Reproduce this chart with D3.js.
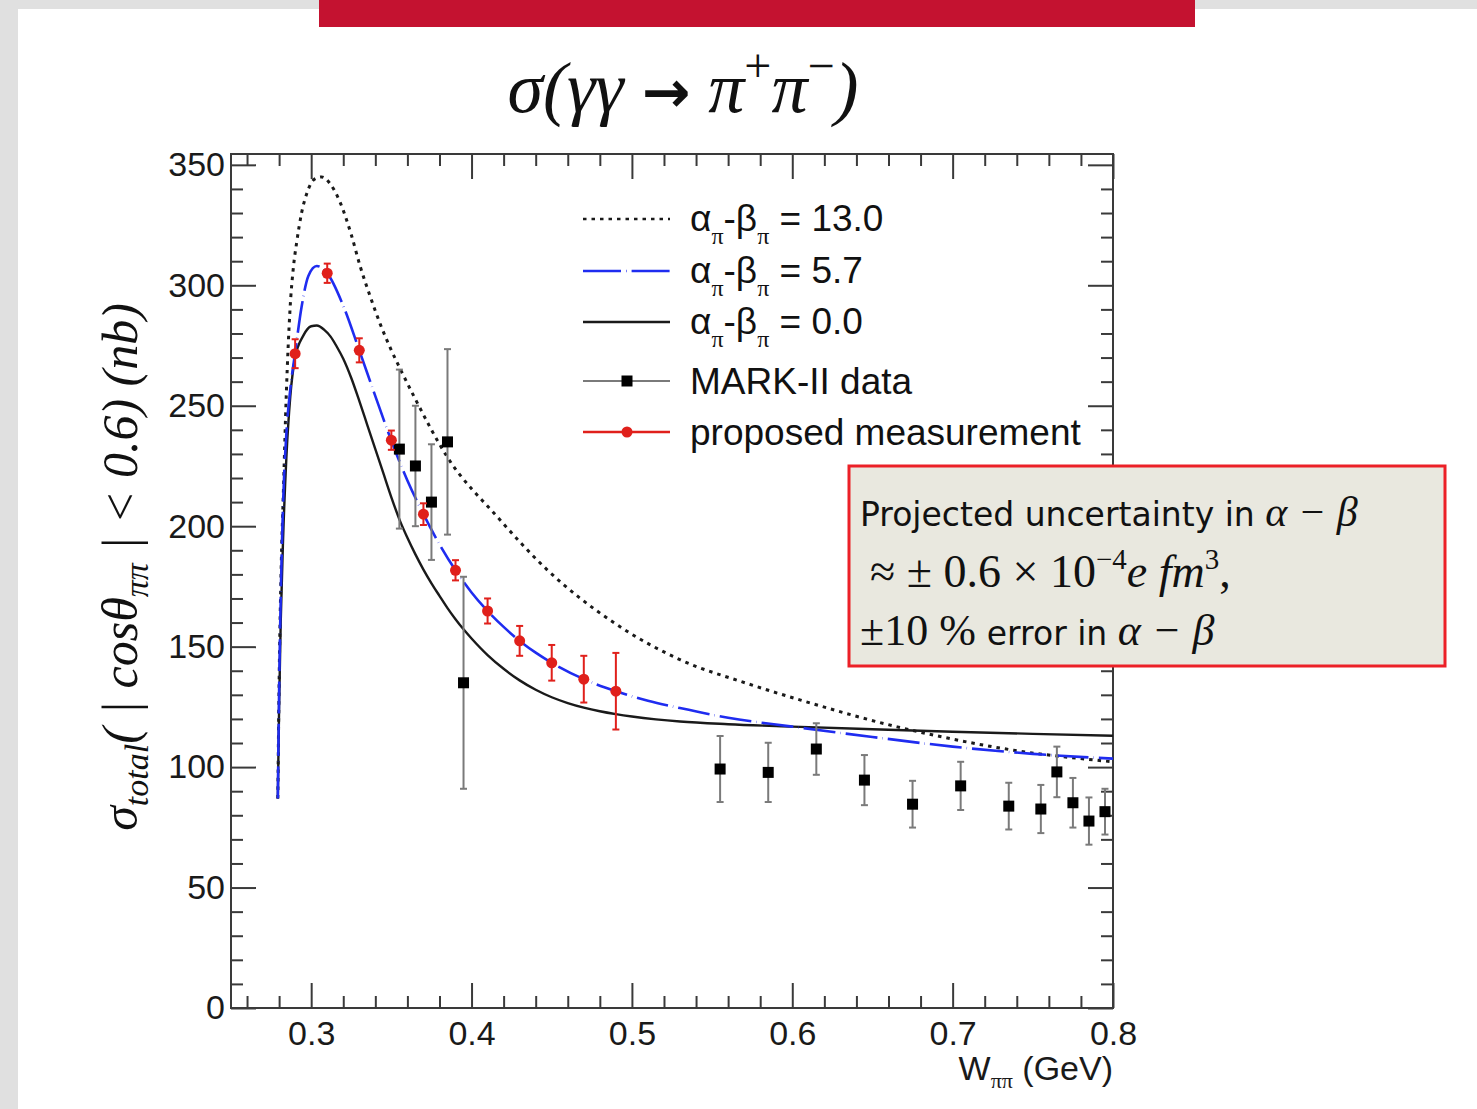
<!DOCTYPE html>
<html>
<head>
<meta charset="utf-8">
<script src="https://cdn.jsdelivr.net/npm/d3@7"></script>
<style>
  body { margin: 0; background: #fff; }
</style>
</head>
<body>
<svg id="chart" width="1477" height="1109"></svg>
<script>
const width = 1477;
const height = 1109;
const marginTop = 154;
const marginRight = 364;
const marginBottom = 101;
const marginLeft = 231;

// tick values
const xMajor = [0.3, 0.4, 0.5, 0.6, 0.7, 0.8];
const xMinor = [0.26, 0.28, 0.32, 0.34, 0.36, 0.38, 0.42, 0.44, 0.46, 0.48, 0.52, 0.54, 0.56, 0.58,
  0.62, 0.64, 0.66, 0.68, 0.72, 0.74, 0.76, 0.78];
const yMajor = [0, 50, 100, 150, 200, 250, 300, 350];
const yMinor = d3.range(0, 351, 10).filter(v => v % 50 !== 0);

// alpha-beta = 13.0 (dotted)
const dottedX = [0.2792, 0.2800, 0.2812, 0.2827, 0.2845, 0.2868, 0.2890, 0.2910, 0.2940, 0.2972, 0.3020,
  0.3066, 0.3120, 0.3180, 0.3250, 0.3305, 0.3370, 0.3430, 0.3500, 0.3550, 0.3640, 0.3846, 0.4159, 0.4470,
  0.4886, 0.5303, 0.5719, 0.6052, 0.6655, 0.6880, 0.7380, 0.8000];
const dottedY = [87, 135, 180, 215, 255, 290, 308, 318, 330, 338, 344,
  345, 342, 334.5, 321, 308, 295, 284, 273, 266, 254, 229, 204, 182,
  160, 144.5, 134.7, 127.8, 116.7, 113.3, 107, 102.2];

// alpha-beta = 5.7 (blue dashed)
const blueX = [0.2792, 0.2800, 0.2810, 0.2825, 0.2845, 0.2870, 0.2900, 0.2940, 0.2983, 0.3035, 0.3100,
  0.3200, 0.3300, 0.3400, 0.3500, 0.3600, 0.3700, 0.3800, 0.3900, 0.4000, 0.4100, 0.4200, 0.4300,
  0.4400, 0.4500, 0.4700, 0.4900, 0.5100, 0.5300, 0.5600, 0.6000, 0.6500, 0.7000, 0.7500, 0.8000];
const blueY = [87, 132, 170, 210, 238, 257, 272, 291, 304, 308, 305,
  291.5, 273, 254, 235.5, 219, 205, 192.5, 181.7, 172.5, 164.8, 158.2, 152.4,
  147.5, 143.3, 136.5, 131.5, 127.5, 124.5, 120.5, 116.8, 112.5, 108.5, 105.5, 103.5];

// alpha-beta = 0.0 (black solid)
const blackX = [0.2792, 0.2800, 0.2810, 0.2825, 0.2845, 0.2870, 0.2900, 0.2950, 0.3000, 0.3035, 0.3080,
  0.3120, 0.3160, 0.3200, 0.3250, 0.3300, 0.3350, 0.3400, 0.3450, 0.3500, 0.3555, 0.3600, 0.3650,
  0.3700, 0.3750, 0.3800, 0.3850, 0.3900, 0.3950, 0.4000, 0.4100, 0.4200, 0.4300, 0.4400, 0.4500,
  0.4600, 0.4700, 0.4800, 0.4900, 0.5000, 0.5150, 0.5300, 0.5600, 0.6000, 0.6500, 0.7000, 0.7500, 0.8000];
const blackY = [87, 125, 160, 195, 228, 254, 270, 279, 283, 283.3, 281.6,
  278.8, 274.5, 269.5, 261.5, 252, 242, 232, 222, 212, 202, 195.2, 188.3,
  182, 176.3, 171.1, 166, 161.4, 157.2, 153.4, 146.5, 140.8, 136, 132.1, 129,
  126.6, 124.7, 123.2, 122, 121, 119.8, 118.9, 117.8, 116.8, 115.7, 114.7, 113.8, 113];

// MARK-II data
const markX = [0.355, 0.365, 0.375, 0.385, 0.395, 0.555, 0.585, 0.615, 0.645, 0.675, 0.705, 0.735,
  0.755, 0.765, 0.775, 0.785, 0.795];
const markY = [232, 225, 210, 235, 135, 99.2, 97.8, 107.5, 94.6, 84.6, 92.2, 83.8,
  82.6, 98.0, 85.2, 77.6, 81.5];
const markErr = [33, 25, 24, 38.5, 44, 13.7, 12.3, 10.7, 10.4, 9.7, 10, 9.7,
  10, 10.5, 10.3, 9.8, 9.5];

// proposed measurement
const propX = [0.29, 0.31, 0.33, 0.35, 0.37, 0.39, 0.41, 0.43, 0.45, 0.47, 0.49];
const propY = [271.6, 305, 273, 235.7, 205, 181.7, 164.8, 152.4, 143.3, 136.5, 131.5];
const propErr = [6, 4, 5, 4, 4.5, 4.2, 5.2, 6.2, 7.4, 9.7, 15.9];

const svg = d3.select("#chart");

// page background
svg.append("rect").attr("width", width).attr("height", height).attr("fill", "#e0e0e0");
svg.append("rect").attr("x", 18).attr("y", 9).attr("width", width - 18).attr("height", height - 9)
  .attr("fill", "#ffffff");
svg.append("rect").attr("x", 319).attr("y", 0).attr("width", 876).attr("height", 27).attr("fill", "#c41230");

// title
const title = svg.append("text")
  .attr("x", 683).attr("y", 112)
  .attr("text-anchor", "middle")
  .attr("font-family", "Liberation Serif, serif")
  .attr("font-style", "italic")
  .attr("font-size", 72)
  .attr("fill", "#111");
title.append("tspan").text("σ(γγ ");
title.append("tspan").attr("font-family", "DejaVu Sans, sans-serif").attr("font-style", "normal")
  .attr("font-weight", "bold").attr("font-size", 58).text("→");
title.append("tspan").text(" π");
title.append("tspan").attr("dy", -30).attr("font-size", 48).attr("font-style", "normal").text("+");
title.append("tspan").attr("dy", 30).text("π");
title.append("tspan").attr("dy", -30).attr("font-size", 48).attr("font-style", "normal").text("−");
title.append("tspan").attr("dy", 30).text(")");

const x = d3.scaleLinear()
  .domain([0.25, 0.8])
  .range([marginLeft, width - marginRight]);

const y = d3.scaleLinear()
  .domain([0, 354.5])
  .range([height - marginBottom, marginTop]);

const axisColor = "#3a3a3a";
const styleAxis = (g) => {
  g.select(".domain").remove();
  g.selectAll(".tick line").attr("stroke", axisColor).attr("stroke-width", 2);
  g.selectAll(".tick text").attr("fill", "#1a1a1a")
    .attr("font-family", "Liberation Sans, Arial, sans-serif").attr("font-size", 34);
};

// bottom axis
svg.append("g")
  .attr("transform", `translate(0,${height - marginBottom})`)
  .call(d3.axisBottom(x).tickValues(xMajor).tickSize(-25).tickPadding(13).tickFormat(d3.format(".1f")))
  .call(styleAxis);
svg.append("g")
  .attr("transform", `translate(0,${height - marginBottom})`)
  .call(d3.axisBottom(x).tickValues(xMinor).tickSize(-12).tickFormat(""))
  .call(styleAxis);

// top axis
svg.append("g")
  .attr("transform", `translate(0,${marginTop})`)
  .call(d3.axisTop(x).tickValues(xMajor).tickSize(-25).tickFormat(""))
  .call(styleAxis);
svg.append("g")
  .attr("transform", `translate(0,${marginTop})`)
  .call(d3.axisTop(x).tickValues(xMinor).tickSize(-12).tickFormat(""))
  .call(styleAxis);

// left axis
svg.append("g")
  .attr("transform", `translate(${marginLeft},0)`)
  .call(d3.axisLeft(y).tickValues(yMajor).tickSize(-25).tickPadding(6))
  .call(styleAxis);
svg.append("g")
  .attr("transform", `translate(${marginLeft},0)`)
  .call(d3.axisLeft(y).tickValues(yMinor).tickSize(-12).tickFormat(""))
  .call(styleAxis);

// right axis
svg.append("g")
  .attr("transform", `translate(${width - marginRight},0)`)
  .call(d3.axisRight(y).tickValues(yMajor).tickSize(-25).tickFormat(""))
  .call(styleAxis);
svg.append("g")
  .attr("transform", `translate(${width - marginRight},0)`)
  .call(d3.axisRight(y).tickValues(yMinor).tickSize(-12).tickFormat(""))
  .call(styleAxis);

// frame
svg.append("rect")
  .attr("x", marginLeft).attr("y", marginTop)
  .attr("width", width - marginRight - marginLeft)
  .attr("height", height - marginBottom - marginTop)
  .attr("fill", "none").attr("stroke", axisColor).attr("stroke-width", 2);

// x label
const xLabel = svg.append("text")
  .attr("x", width - marginRight).attr("y", 1080)
  .attr("text-anchor", "end")
  .attr("font-family", "Liberation Sans, Arial, sans-serif")
  .attr("font-size", 34).attr("fill", "#1a1a1a");
xLabel.append("tspan").text("W");
xLabel.append("tspan").attr("dy", 8).attr("font-size", 22)
  .attr("font-family", "Liberation Serif, serif").text("ππ");
xLabel.append("tspan").attr("dy", -8).text(" (GeV)");

// y label
const yLabel = svg.append("text")
  .attr("transform", "translate(137,567) rotate(-90)")
  .attr("text-anchor", "middle")
  .attr("font-family", "Liberation Serif, serif")
  .attr("font-style", "italic")
  .attr("font-size", 50).attr("fill", "#111");
yLabel.append("tspan").text("σ");
yLabel.append("tspan").attr("dy", 11).attr("font-size", 34).text("total");
yLabel.append("tspan").attr("dy", -11).text("( |");
yLabel.append("tspan").text(" cosθ");
yLabel.append("tspan").attr("dy", 11).attr("font-size", 34).text("ππ");
yLabel.append("tspan").attr("dy", -11).text(" | < 0.6) (nb)");

// curves
const line = d3.line()
  .x(d => x(d[0]))
  .y(d => y(d[1]))
  .curve(d3.curveMonotoneX);

svg.append("path")
  .datum(blackX.map((v, i) => [v, blackY[i]]))
  .attr("d", line)
  .attr("fill", "none").attr("stroke", "#1a1a1a").attr("stroke-width", 2.4);

svg.append("path")
  .datum(dottedX.map((v, i) => [v, dottedY[i]]))
  .attr("d", line)
  .attr("fill", "none").attr("stroke", "#1a1a1a").attr("stroke-width", 3)
  .attr("stroke-dasharray", "3.5,5");

svg.append("path")
  .datum(blueX.map((v, i) => [v, blueY[i]]))
  .attr("d", line)
  .attr("fill", "none").attr("stroke", "#1f2cf0").attr("stroke-width", 2.6)
  .attr("stroke-dasharray", "32,5,0.4,5");

// error bars helper
function errorBars(xs, ys, errs, color) {
  const g = svg.append("g").attr("stroke", color).attr("stroke-width", 2);
  xs.forEach((v, i) => {
    const cx = x(v);
    const top = y(ys[i] + errs[i]);
    const bottom = y(ys[i] - errs[i]);
    g.append("line").attr("x1", cx).attr("x2", cx).attr("y1", top).attr("y2", bottom);
    g.append("line").attr("x1", cx - 3.5).attr("x2", cx + 3.5).attr("y1", top).attr("y2", top);
    g.append("line").attr("x1", cx - 3.5).attr("x2", cx + 3.5).attr("y1", bottom).attr("y2", bottom);
  });
}

// MARK-II data
errorBars(markX, markY, markErr, "#7a7a7a");
svg.append("g")
  .selectAll("rect")
  .data(markX)
  .enter()
  .append("rect")
  .attr("x", (d) => x(d) - 5.5)
  .attr("y", (d, i) => y(markY[i]) - 5.5)
  .attr("width", 11).attr("height", 11)
  .attr("fill", "#000");

// proposed measurement
errorBars(propX, propY, propErr, "#e0201b");
svg.append("g")
  .selectAll("circle")
  .data(propX)
  .enter()
  .append("circle")
  .attr("cx", (d) => x(d))
  .attr("cy", (d, i) => y(propY[i]))
  .attr("r", 5.5)
  .attr("fill", "#e0201b");

// legend
const legend = svg.append("g")
  .attr("font-family", "Liberation Sans, Arial, sans-serif")
  .attr("font-size", 37).attr("fill", "#111");
const legendRows = [219, 271, 322, 381, 432];
const abValues = ["13.0", "5.7", "0.0"];

legend.append("line").attr("x1", 583).attr("x2", 670).attr("y1", legendRows[0]).attr("y2", legendRows[0])
  .attr("stroke", "#1a1a1a").attr("stroke-width", 2.4).attr("stroke-dasharray", "3.5,5");
legend.append("line").attr("x1", 583).attr("x2", 670).attr("y1", legendRows[1]).attr("y2", legendRows[1])
  .attr("stroke", "#1f2cf0").attr("stroke-width", 2.4).attr("stroke-dasharray", "38,5,0.6,5");
legend.append("line").attr("x1", 583).attr("x2", 670).attr("y1", legendRows[2]).attr("y2", legendRows[2])
  .attr("stroke", "#1a1a1a").attr("stroke-width", 2.4);
legend.append("line").attr("x1", 583).attr("x2", 670).attr("y1", legendRows[3]).attr("y2", legendRows[3])
  .attr("stroke", "#7a7a7a").attr("stroke-width", 2);
legend.append("rect").attr("x", 627 - 5.5).attr("y", legendRows[3] - 5.5).attr("width", 11).attr("height", 11)
  .attr("fill", "#000");
legend.append("line").attr("x1", 583).attr("x2", 670).attr("y1", legendRows[4]).attr("y2", legendRows[4])
  .attr("stroke", "#e0201b").attr("stroke-width", 2.4);
legend.append("circle").attr("cx", 627).attr("cy", legendRows[4]).attr("r", 5.5).attr("fill", "#e0201b");

abValues.forEach((v, i) => {
  const t = legend.append("text").attr("x", 690).attr("y", legendRows[i] + 12);
  t.append("tspan").text("α");
  t.append("tspan").attr("dy", 13).attr("font-size", 24).attr("font-family", "Liberation Serif, serif").text("π");
  t.append("tspan").attr("dy", -13).text("-β");
  t.append("tspan").attr("dy", 13).attr("font-size", 24).attr("font-family", "Liberation Serif, serif").text("π");
  t.append("tspan").attr("dy", -13).text(" = " + v);
});
legend.append("text").attr("x", 690).attr("y", legendRows[3] + 13).text("MARK-II data");
legend.append("text").attr("x", 690).attr("y", legendRows[4] + 13).text("proposed measurement");

// annotation box
svg.append("rect")
  .attr("x", 849).attr("y", 466).attr("width", 596).attr("height", 200)
  .attr("fill", "#e9e8df").attr("stroke", "#ec2027").attr("stroke-width", 3);

const sansBox = "DejaVu Sans, sans-serif";
const serifBox = "Liberation Serif, serif";

const l1 = svg.append("text").attr("x", 860).attr("y", 526).attr("fill", "#111");
l1.append("tspan").attr("font-family", sansBox).attr("font-size", 33).text("Projected uncertainty in ");
l1.append("tspan").attr("font-family", serifBox).attr("font-style", "italic").attr("font-size", 42).text("α − β");

const l2 = svg.append("text").attr("x", 870).attr("y", 587).attr("fill", "#111")
  .attr("font-family", serifBox).attr("font-size", 46);
l2.append("tspan").text("≈ ± 0.6 × 10");
l2.append("tspan").attr("dy", -18).attr("font-size", 29).text("−4");
l2.append("tspan").attr("dy", 18).attr("font-style", "italic").text("e fm");
l2.append("tspan").attr("dy", -18).attr("font-size", 29).text("3");
l2.append("tspan").attr("dy", 18).text(",");

const l3 = svg.append("text").attr("x", 860).attr("y", 645).attr("fill", "#111");
l3.append("tspan").attr("font-family", serifBox).attr("font-size", 44).text("±10 % ");
l3.append("tspan").attr("font-family", sansBox).attr("font-size", 33).text("error in ");
l3.append("tspan").attr("font-family", serifBox).attr("font-style", "italic").attr("font-size", 44).text("α − β");
</script>
</body>
</html>
